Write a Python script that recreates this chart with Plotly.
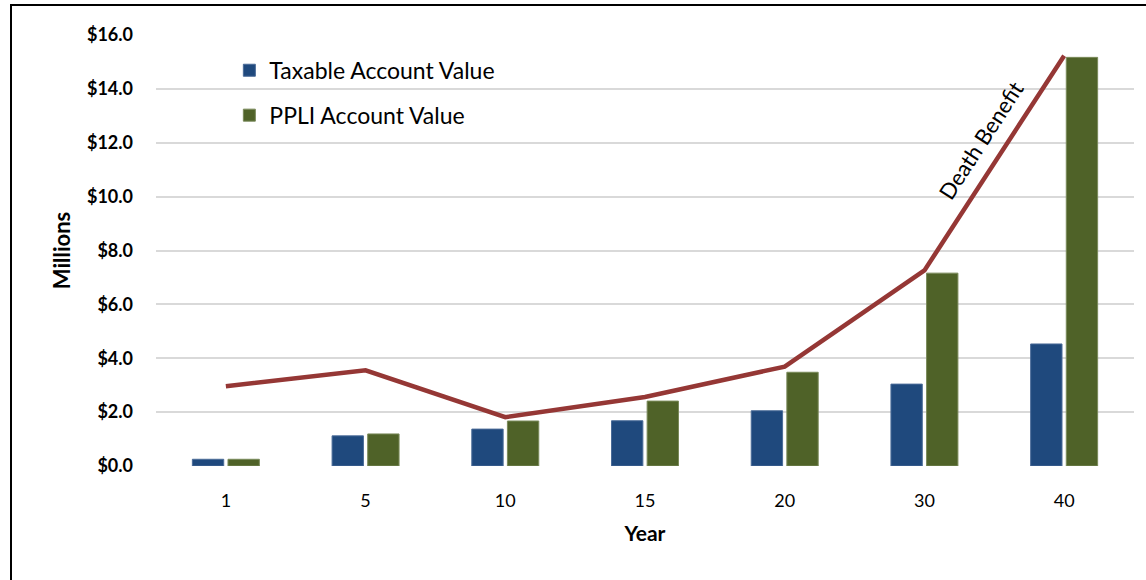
import plotly.graph_objects as go

years = ["1", "5", "10", "15", "20", "30", "40"]
taxable = [0.25, 1.12, 1.37, 1.68, 2.05, 3.04, 4.53]
ppli = [0.25, 1.19, 1.67, 2.41, 3.48, 7.16, 15.17]
death_benefit = [2.96, 3.55, 1.81, 2.56, 3.69, 7.26, 15.23]
y_ticks = [0, 2, 4, 6, 8, 10, 12, 14, 16]
y_tick_labels = ["$%.1f" % v for v in y_ticks]

FONT = "Lato"
W, H = 1146, 580
ML, MR, MT, MB = 156, 12, 35, 114

fig = go.Figure()
fig.add_trace(go.Bar(
    x=years, y=taxable, name="Taxable Account Value",
    marker=dict(color="#1f497d", line=dict(color="#4a6b98", width=1)),
    legendgroup="a",
))
fig.add_trace(go.Bar(
    x=years, y=ppli, name="PPLI Account Value",
    marker=dict(color="#4f6228", line=dict(color="#7a8a5a", width=1)),
    legendgroup="b",
))
fig.add_trace(go.Scatter(
    x=years, y=death_benefit, name="Death Benefit", mode="lines",
    line=dict(color="#953735", width=4.5),
    showlegend=False,
))

fig.add_annotation(
    x=5.40, y=12.1, xref="x", yref="y", text="Death Benefit",
    showarrow=False, textangle=-57,
    font=dict(family=FONT, size=22, color="#000000"),
)

# outer border (pixel positions converted to paper fractions)
pw = W - ML - MR
ph = H - MT - MB
left_px, top_px = 11, 5
fig.add_shape(
    type="rect", xref="paper", yref="paper",
    x0=(left_px - ML) / pw, x1=(W + 20 - ML) / pw,
    y0=-(H + 20 - (H - MB)) / ph, y1=((H - MB) - top_px) / ph,
    line=dict(color="#000000", width=2), fillcolor="rgba(0,0,0,0)",
    layer="above",
)

fig.update_layout(
    width=W, height=H,
    margin=dict(l=ML, r=MR, t=MT, b=MB, pad=0),
    paper_bgcolor="#ffffff", plot_bgcolor="#ffffff",
    barmode="group", bargap=0.49, bargroupgap=0.12,
    font=dict(family=FONT, color="#000000"),
    showlegend=True,
    legend=dict(
        x=0.075, y=0.968, xanchor="left", yanchor="top",
        font=dict(family=FONT, size=23, color="#000000"),
        bgcolor="rgba(255,255,255,0)",
        tracegroupgap=12, traceorder="grouped",
    ),
    xaxis=dict(
        type="category", showgrid=False, zeroline=False, showline=False,
        ticks="", tickfont=dict(family=FONT, size=18, color="#000000"),
        ticklabelstandoff=22,
        title=dict(text="<b>Year</b>", font=dict(family=FONT, size=21, color="#000000"), standoff=16),
    ),
    yaxis=dict(
        range=[0, 16], tickvals=y_ticks, ticktext=y_tick_labels,
        showgrid=True, gridcolor="#d9d9d9", gridwidth=2,
        zeroline=False, showline=False, ticks="",
        tickfont=dict(family=FONT, size=18, color="#000000", weight="bold"),
        ticklabelstandoff=22,
        title=dict(text="<b>Millions</b>", font=dict(family=FONT, size=22, color="#000000"), standoff=10),
    ),
)

fig.write_html(
    "out.html",
    config={"displayModeBar": False},
    post_script="document.body.style.margin='0px';document.body.style.padding='0px';",
)
